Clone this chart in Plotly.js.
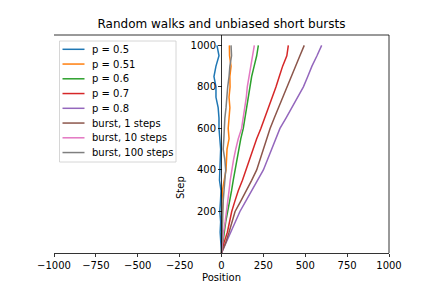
<!DOCTYPE html>
<html>
<head>
<meta charset="utf-8">
<script src="https://cdn.plot.ly/plotly-3.0.1.min.js"></script>
<style>html,body{margin:0;padding:0;background:#fff;}#chart{width:432px;height:288px;}</style>
</head>
<body>
<div id="chart"></div>
<script>
const steps = [0, 50, 100, 150, 200, 250, 300, 350, 400, 450, 500, 550, 600, 650, 700, 750, 800, 850, 900, 950, 1000];
const walk_p050 = [0, -3, -8, -5, -10, -6, -3, -12, -10, -5, -5, -10, -15, -15, -20, -33, -33, -45, -33, -15, -27];
const walk_p051 = [0, 2, 8, 6, 5, 10, 5, 15, 27, 30, 33, 45, 40, 45, 50, 45, 51, 50, 57, 48, 47];
const walk_p060 = [0, 8, 15, 25, 37, 50, 60, 70, 81, 90, 100, 115, 130, 140, 150, 158, 166, 180, 195, 210, 220];
const walk_p070 = [0, 15, 35, 48, 61, 80, 100, 125, 146, 170, 190, 210, 235, 258, 280, 300, 325, 345, 365, 390, 399];
const walk_p080 = [0, 28, 55, 82, 110, 145, 180, 215, 250, 275, 300, 325, 349, 385, 420, 455, 489, 515, 540, 570, 598];
const burst_1 = [0, 25, 45, 62, 81, 115, 150, 180, 210, 230, 250, 270, 290, 315, 340, 365, 389, 415, 440, 468, 494];
const burst_10 = [0, 5, 12, 22, 31, 38, 45, 52, 61, 72, 85, 100, 120, 130, 140, 148, 154, 165, 175, 185, 196];
const burst_100 = [0, 2, 5, 3, 5, 10, 15, 21, 25, 20, 10, 14, 15, 20, 27, 30, 37, 45, 50, 60, 57];

const seriesNames = ["p = 0.5", "p = 0.51", "p = 0.6", "p = 0.7", "p = 0.8",
                     "burst, 1 steps", "burst, 10 steps", "burst, 100 steps"];
const seriesValues = [walk_p050, walk_p051, walk_p060, walk_p070, walk_p080,
                      burst_1, burst_10, burst_100];
const colors = ["#1f77b4", "#ff7f0e", "#2ca02c", "#d62728", "#9467bd",
                "#8c564b", "#e377c2", "#7f7f7f"];

const xTickVals = [-1000, -750, -500, -250, 0, 250, 500, 750, 1000];
const xTickText = ["\u22121000", "\u2212750", "\u2212500", "\u2212250", "0", "250", "500", "750", "1000"];
const yTickVals = [200, 400, 600, 800, 1000];

// ---- layout geometry (pixels) ----
const W = 432, H = 288;
const L = 54, R = 389, T = 35, B = 253;
const px2x = p => (p - L) / (R - L);
const py2y = p => (B - p) / (B - T);

const traces = seriesValues.map((vals, i) => ({
  x: vals, y: steps, type: "scatter", mode: "lines",
  name: seriesNames[i], showlegend: false,
  line: {color: colors[i], width: 1.5}
}));

const shapes = [
  // top and right spines
  {type: "line", xref: "paper", yref: "paper", x0: 0, x1: 1, y0: 1, y1: 1, line: {color: "#000", width: 0.8}},
  {type: "line", xref: "paper", yref: "paper", x0: 1, x1: 1, y0: 0, y1: 1, line: {color: "#000", width: 0.8}},
  // legend frame
  {type: "rect", xref: "paper", yref: "paper", x0: px2x(59.5), x1: px2x(176), y0: py2y(41), y1: py2y(162),
   line: {color: "#cccccc", width: 0.8}, fillcolor: "rgba(255,255,255,0.8)", layer: "above"}
];
const annotations = [];
seriesNames.forEach((name, i) => {
  const yc = 49.3 + i * 14.75;
  shapes.push({type: "line", xref: "paper", yref: "paper", x0: px2x(62.5), x1: px2x(84.5),
    y0: py2y(yc), y1: py2y(yc), line: {color: colors[i], width: 1.5}, layer: "above"});
  annotations.push({xref: "paper", yref: "paper", x: px2x(90), y: py2y(yc), text: name,
    showarrow: false, xanchor: "left", yanchor: "middle",
    font: {family: "DejaVu Sans", size: 10, color: "#000"}});
});
// y-axis label (placed as in the reference)
annotations.push({xref: "paper", yref: "paper", x: px2x(180), y: py2y(188), text: "Step", textangle: -90,
  showarrow: false, xanchor: "center", yanchor: "middle", font: {family: "DejaVu Sans", size: 10, color: "#000"}});

const layout = {
  width: W, height: H,
  margin: {l: L, r: W - R, t: T, b: H - B, pad: 0},
  paper_bgcolor: "#fff", plot_bgcolor: "#fff",
  font: {family: "DejaVu Sans", size: 10, color: "#000"},
  title: {text: "Random walks and unbiased short bursts", font: {family: "DejaVu Sans", size: 12, color: "#000"},
          x: (221.5) / W, xanchor: "center", xref: "container", y: 1 - 23.5 / H, yref: "container", yanchor: "middle"},
  showlegend: false,
  xaxis: {range: [-1000, 1000], tickvals: xTickVals, ticktext: xTickText, ticks: "outside", ticklen: 3.5, tickwidth: 0.8,
          tickcolor: "#000", showline: true, linecolor: "#000", linewidth: 0.8, showgrid: false, zeroline: false,
          title: {text: "Position", font: {family: "DejaVu Sans", size: 10}, standoff: 3}},
  yaxis: {range: [0, 1050], tickvals: yTickVals, ticks: "outside", ticklen: 3.5, tickwidth: 0.8, tickcolor: "#000",
          showline: true, linecolor: "#000", linewidth: 0.8, showgrid: false, zeroline: false,
          anchor: "free", position: 0.5},
  shapes: shapes, annotations: annotations
};

Plotly.newPlot("chart", traces, layout, {staticPlot: true, displayModeBar: false});
</script>
</body>
</html>
